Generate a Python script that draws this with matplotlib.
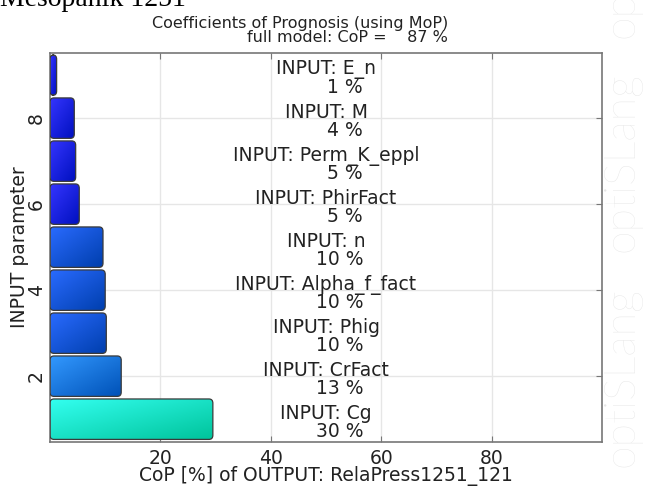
import numpy as np
import matplotlib.pyplot as plt
from matplotlib.patches import FancyBboxPatch
from matplotlib.colors import LinearSegmentedColormap

# CoP values per input parameter (bottom to top)
names = ["Cg", "CrFact", "Phig", "Alpha_f_fact", "n",
         "PhirFact", "Perm_K_eppl", "M", "E_n"]
cop = [29.5, 12.9, 10.2, 10.0, 9.6, 5.3, 4.65, 4.4, 1.2]
cop_text = [30, 13, 10, 10, 10, 5, 5, 4, 1]
full_cop = 87

# gradient colours (light top-left -> dark bottom-right)
light = ["#33fff0", "#3399ff", "#2a6bff", "#2a6bff", "#2a6bff",
         "#3535ff", "#3535ff", "#3535ff", "#3535ff"]
dark = ["#00c49c", "#0052b8", "#003fae", "#003fae", "#003fae",
        "#0010bf", "#0010bf", "#0010bf", "#0010bf"]

plt.rcParams['font.family'] = ['DejaVu Sans']
fig = plt.figure(figsize=(6.46, 4.88), dpi=100)
ax = fig.add_axes([0.0774, 0.0943, 0.8546, 0.7967])

pos = np.arange(1, len(names) + 1)
bars = ax.barh(pos, cop, height=0.94, color='none', edgecolor='none')

# gradient image for the fills
gx, gy = np.meshgrid(np.linspace(0, 1, 64), np.linspace(0, 1, 32))
grad = (gx + gy) / 2

for b, c0, c1 in zip(bars, light, dark):
    x0, y0 = b.get_x(), b.get_y()
    w, h = b.get_width(), b.get_height()
    box = FancyBboxPatch((x0, y0), w, h,
                         boxstyle="round,pad=0,rounding_size=0.7",
                         mutation_aspect=0.14, facecolor='none',
                         edgecolor='#3a3a3a', linewidth=0.9, zorder=3)
    ax.add_patch(box)
    cmap = LinearSegmentedColormap.from_list("g", [c0, c1])
    im = ax.imshow(grad, cmap=cmap, extent=(x0, x0 + w, y0, y0 + h),
                   origin='upper', aspect='auto', zorder=2,
                   interpolation='bilinear')
    im.set_clip_path(box)

ax.set_xlim(0, 100)
ax.set_ylim(0.47, 9.51)

for p, nm, v in zip(pos, names, cop_text):
    ax.text(50, p + 0.13, "INPUT: " + nm, ha='center', va='center',
            fontsize=13.5, color='#222222', zorder=4)
    ax.text(56.7, p - 0.28, "%d %%" % v, ha='right', va='center',
            fontsize=13.5, color='#222222', zorder=4)

ax.set_xticks([20, 40, 60, 80])
ax.set_yticks([2, 4, 6, 8])
ax.tick_params(axis='both', direction='in', length=4, color='#777777',
               labelsize=13.5, top=True, right=True, labelcolor='#222222')
ax.tick_params(axis='x', pad=5)
ax.tick_params(axis='y', pad=3)
for lab in ax.get_yticklabels():
    lab.set_rotation(90)
    lab.set_va('center')
ax.grid(True, color='#e6e6e6', linewidth=1)
ax.set_axisbelow(True)
for s in ax.spines.values():
    s.set_color('#777777')
    s.set_linewidth(1.2)

ax.set_xlabel("CoP [%] of OUTPUT: RelaPress1251_121", fontsize=13.5,
              color='#222222', va='center')
ax.xaxis.set_label_coords(0.5, -0.088)
ax.set_ylabel("INPUT parameter", fontsize=13.5, color='#222222', va='center')
ax.yaxis.set_label_coords(-0.056, 0.5)

fig.text(0.6935, 1 - 45 / 488,
         "Coefficients of Prognosis (using MoP)\nfull model: CoP =    %d %%" % full_cop,
         ha='right', va='bottom', multialignment='right', fontsize=11.5,
         color='#222222', linespacing=0.95)

# cut-off heading at the very top
fig.text(0.0, 1 - 6 / 488, "Mesopanik 1251", family='Liberation Serif',
         fontsize=20, ha='left', va='baseline', color='black')

# watermark
for yc in [0.227, 0.668, 1.107]:
    fig.text(0.962, yc, "optiSLang", rotation=90, ha='center', va='center',
             fontsize=31, color='#e6e6e6', family='Lato', fontweight='light')

fig.savefig("out.png", dpi=100)
